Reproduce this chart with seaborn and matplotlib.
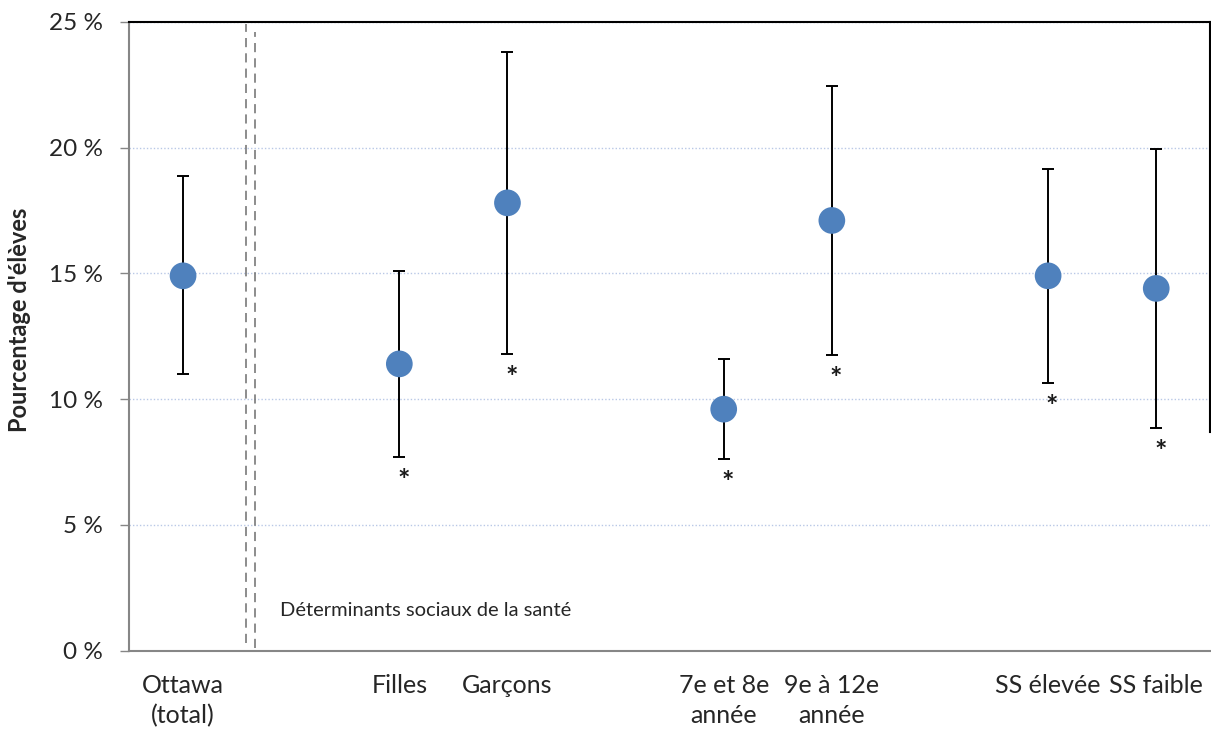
import matplotlib
matplotlib.use("Agg")
import matplotlib.pyplot as plt
import seaborn as sns
import pandas as pd

# Groups and their estimates (percent of students) with 95% confidence limits
categories = ["Ottawa\n(total)", "Filles", "Garçons", "7e et 8e\nannée",
              "9e à 12e\nannée", "SS élevée", "SS faible"]
slots = [0, 2, 3, 5, 6, 8, 9]  # category slots, gaps separate the groupings
estimate = [14.9, 11.4, 17.8, 9.6, 17.1, 14.9, 14.4]
lower = [11.0, 7.7, 11.8, 7.6, 11.75, 10.65, 8.85]
upper = [18.85, 15.1, 23.8, 11.6, 22.45, 19.15, 19.95]
significant = ["", "*", "*", "*", "*", "*", "*"]
y_ticks = [0, 5, 10, 15, 20, 25]
y_tick_labels = ["0 %", "5 %", "10 %", "15 %", "20 %", "25 %"]
section_label = "Déterminants sociaux de la santé"
y_title = "Pourcentage d'élèves"

df = pd.DataFrame({"slot": slots, "estimate": estimate,
                   "lower": lower, "upper": upper, "label": categories,
                   "sig": significant})

sns.set_theme(style="white")
plt.rcParams["font.family"] = ["Lato", "DejaVu Sans"]

fig = plt.figure(figsize=(12.11, 7.35), dpi=100)
ax = fig.add_axes([129 / 1211, 1 - 650.7 / 735, (1210.3 - 129) / 1211, (650.7 - 21.7) / 735])

# Gridlines
for yv in y_ticks[1:]:
    ax.axhline(yv, color="#b9c8e6", lw=1.0, ls=(0, (1, 1.5)), zorder=0)

# Error bars
err_lo = df["estimate"] - df["lower"]
err_hi = df["upper"] - df["estimate"]
ax.errorbar(df["slot"], df["estimate"], yerr=[err_lo, err_hi], fmt="none",
            ecolor="black", elinewidth=1.4, capsize=4.2, capthick=1.4, zorder=2)

# Point estimates
sns.scatterplot(data=df, x="slot", y="estimate", ax=ax, s=26.7 ** 2 * 0.72 ** 2,
                color="#4f81bd", edgecolor="none", linewidth=0, zorder=3, legend=False)

# Significance markers below the lower limits
for _, r in df.iterrows():
    if r["sig"]:
        ax.annotate(r["sig"], xy=(r["slot"], r["lower"]), xytext=(4, -24),
                    textcoords="offset pixels", ha="center", va="center",
                    fontsize=21, fontweight="bold", color="#1a1a1a")

# Separator between the overall value and the social determinants
ax.plot([0.586, 0.586], [0.3, 24.9], color="#6e6e6e", lw=1.1, ls=(0, (6, 4)), zorder=1)
ax.plot([0.669, 0.669], [0.1, 24.6], color="#6e6e6e", lw=1.1, ls=(0, (6, 4)), zorder=1)
ax.text(0.9, 1.6, section_label, fontsize=14.5, color="#262626", va="center", ha="left")

ax.set_xlim(-0.5, 9.5)
ax.set_ylim(0, 25)
ax.set_yticks(y_ticks)
ax.set_yticklabels(y_tick_labels, fontsize=17.5)
ax.set_xticks(slots)
ax.set_xticklabels(categories, fontsize=18, linespacing=1.35)
ax.tick_params(axis="y", length=6.5, width=1, color="#868686", pad=12, left=True)
ax.tick_params(axis="x", length=0, pad=17, bottom=True)
ax.set_xlabel("")
ax.set_ylabel("")

for side in ["left", "bottom"]:
    ax.spines[side].set_color("#868686")
    ax.spines[side].set_linewidth(1.5)
ax.spines["top"].set_color("black")
ax.spines["top"].set_linewidth(1.5)
ax.spines["right"].set_color("black")
ax.spines["right"].set_linewidth(1.5)
ax.spines["right"].set_bounds(8.7, 25)

fig.text(20 / 1211, 1 - 320 / 735, y_title, rotation=90, ha="center", va="center",
         fontsize=17, fontweight="bold")

fig.savefig("out.png", dpi=100)
